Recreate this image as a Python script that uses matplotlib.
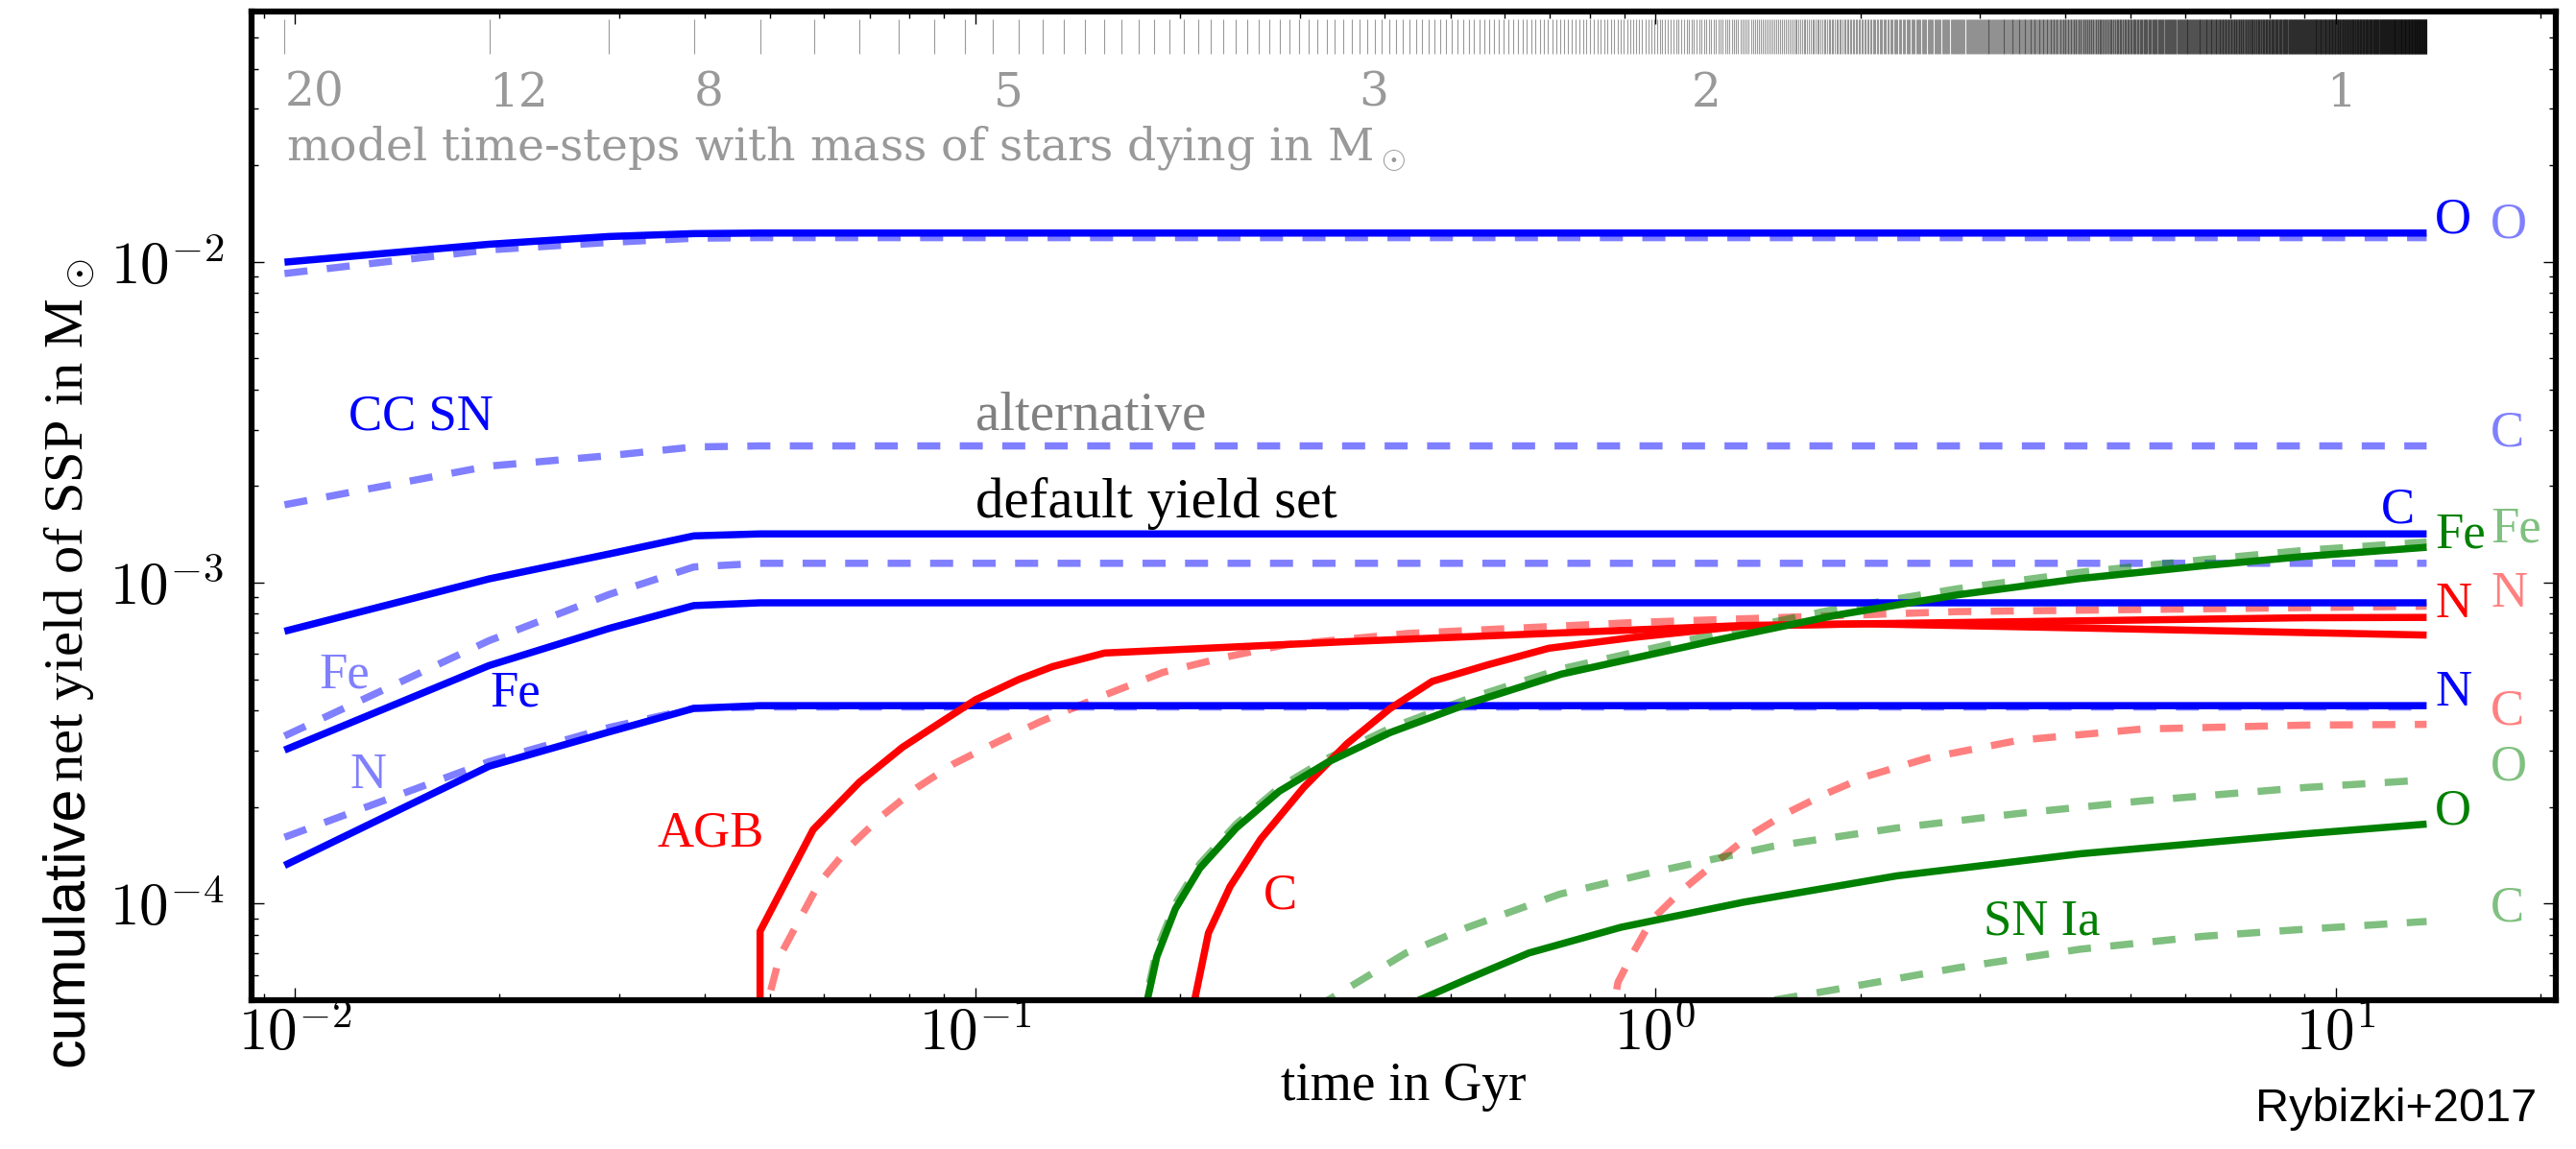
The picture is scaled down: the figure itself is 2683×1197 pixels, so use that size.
import numpy as np
import matplotlib
matplotlib.use("Agg")
import matplotlib.pyplot as plt
from matplotlib.ticker import FuncFormatter, LogLocator

plt.rcParams['mathtext.fontset'] = 'cm'

# ---------------- data ----------------
# model time grid (Gyr)
model_dt = 0.00966
n_steps = 1408

# stellar masses dying at given model time-steps
mass_labels = ['20', '12', '8', '5', '3', '2', '1']
mass_label_times = [0.00966, 0.0193, 0.0386, 0.1063, 0.3667, 1.13, 9.68]

# CC SN
t_cc = [0.00966, 0.0193, 0.029, 0.0386, 0.0483, 13.6]
cc_O = [9.98e-3, 1.135e-2, 1.20e-2, 1.225e-2, 1.23e-2, 1.23e-2]
cc_C = [7.06e-4, 1.028e-3, 1.23e-3, 1.40e-3, 1.42e-3, 1.42e-3]
cc_Fe = [3.01e-4, 5.52e-4, 7.21e-4, 8.49e-4, 8.66e-4, 8.66e-4]
cc_N = [1.315e-4, 2.68e-4, 3.43e-4, 4.06e-4, 4.14e-4, 4.14e-4]
cc_O_alt = [9.2e-3, 1.09e-2, 1.15e-2, 1.185e-2, 1.19e-2, 1.19e-2]
cc_C_alt = [1.75e-3, 2.31e-3, 2.49e-3, 2.65e-3, 2.67e-3, 2.67e-3]
cc_Fe_alt = [3.33e-4, 6.6e-4, 9.2e-4, 1.12e-3, 1.15e-3, 1.15e-3]
cc_N_alt = [1.61e-4, 2.77e-4, 3.54e-4, 4.06e-4, 4.1e-4, 4.1e-4]

# AGB
t_agb_N = [0.0483, 0.0483, 0.0578, 0.0676, 0.0782, 0.0893, 0.1002, 0.116, 0.130,
           0.155, 0.35, 0.93, 1.35, 9.0, 13.6]
agb_N = [1e-5, 8.2e-5, 1.70e-4, 2.39e-4, 3.07e-4, 3.69e-4, 4.32e-4, 5.0e-4, 5.48e-4,
         6.04e-4, 6.55e-4, 7.13e-4, 7.36e-4, 7.78e-4, 7.8e-4]
t_agb_N_alt = [0.0483, 0.0516, 0.059, 0.0655, 0.0726, 0.0822, 0.0931, 0.1078, 0.1247,
               0.1535, 0.189, 0.232, 0.286, 0.432, 0.93, 2.78, 13.6]
agb_N_alt = [4e-5, 6.84e-5, 1.16e-4, 1.51e-4, 1.86e-4, 2.30e-4, 2.73e-4, 3.19e-4, 3.69e-4,
             4.43e-4, 5.26e-4, 5.85e-4, 6.41e-4, 6.95e-4, 7.52e-4, 8.13e-4, 8.45e-4]
t_agb_C = [0.2, 0.2203, 0.237, 0.263, 0.304, 0.352, 0.407, 0.470, 0.567, 0.697, 0.93,
           1.346, 2.04, 4.21, 13.6]
agb_C = [3e-5, 8.1e-5, 1.13e-4, 1.59e-4, 2.30e-4, 3.15e-4, 4.05e-4, 4.93e-4, 5.55e-4,
         6.25e-4, 6.76e-4, 7.33e-4, 7.45e-4, 7.23e-4, 6.87e-4]
t_agb_C_alt = [0.855, 0.881, 0.927, 0.987, 1.094, 1.214, 1.375, 1.556, 1.763, 2.04, 2.51,
               3.42, 5.19, 9.0, 13.6]
agb_C_alt = [4e-5, 5.69e-5, 7.02e-5, 8.89e-5, 1.10e-4, 1.32e-4, 1.63e-4, 1.91e-4, 2.18e-4,
             2.49e-4, 2.84e-4, 3.23e-4, 3.50e-4, 3.60e-4, 3.62e-4]

# SN Ia
t_ia_Fe = [0.175, 0.185, 0.197, 0.214, 0.242, 0.280, 0.330, 0.407, 0.532, 0.727, 1.214,
           1.84, 2.78, 4.21, 6.39, 9.0, 13.6]
ia_Fe = [4e-5, 6.84e-5, 9.64e-5, 1.29e-4, 1.72e-4, 2.24e-4, 2.76e-4, 3.41e-4, 4.21e-4,
         5.19e-4, 6.59e-4, 7.92e-4, 9.17e-4, 1.031e-3, 1.13e-3, 1.208e-3, 1.29e-3]
ia_Fe_alt = [4.2e-5, 7.2e-5, 1.0e-4, 1.33e-4, 1.77e-4, 2.30e-4, 2.84e-4, 3.52e-4, 4.36e-4,
             5.39e-4, 6.89e-4, 8.28e-4, 9.58e-4, 1.078e-3, 1.18e-3, 1.262e-3, 1.34e-3]
t_ia_O = [0.43, 0.449, 0.530, 0.652, 0.890, 1.346, 2.26, 4.21, 9.0, 13.6]
ia_O = [4.6e-5, 5.0e-5, 5.83e-5, 7.02e-5, 8.44e-5, 1.01e-4, 1.22e-4, 1.43e-4, 1.65e-4, 1.77e-4]
t_ia_O_alt = [0.32, 0.33, 0.430, 0.530, 0.723, 0.987, 1.49, 2.26, 3.42, 5.19, 9.0, 13.6]
ia_O_alt = [4.6e-5, 5.0e-5, 7.02e-5, 8.44e-5, 1.07e-4, 1.25e-4, 1.51e-4, 1.72e-4, 1.91e-4,
            2.09e-4, 2.30e-4, 2.43e-4]
t_ia_C_alt = [1.3, 1.49, 1.84, 2.78, 4.21, 6.39, 9.0, 13.6]
ia_C_alt = [4.75e-5, 5.0e-5, 5.4e-5, 6.31e-5, 7.21e-5, 7.91e-5, 8.32e-5, 8.8e-5]

# ---------------- figure ----------------
W, H = 2683, 1197
fig = plt.figure(figsize=(W / 100, H / 100), dpi=100)
ax = fig.add_axes([262 / W, 155 / H, 2400 / W, 1030 / H])
ax.set_xscale('log')
ax.set_yscale('log')
ax.set_xlim(0.00864, 21.06)
ax.set_ylim(5e-5, 0.0603)

LW = 5.4
DASH = (3.2, 2.7)
BLUE, RED, GREEN = '#0000ff', '#ff0000', '#008000'

def dashed(t, v, c):
    ax.plot(t, v, color=c, lw=LW, alpha=0.5, dashes=DASH, solid_capstyle='butt')

def solid(t, v, c):
    ax.plot(t, v, color=c, lw=LW, solid_capstyle='butt')

# alternative (dashed) first
for v in (cc_O_alt, cc_C_alt, cc_Fe_alt, cc_N_alt):
    dashed(t_cc, v, BLUE)
dashed(t_agb_N_alt, agb_N_alt, RED)
dashed(t_agb_C_alt, agb_C_alt, RED)
dashed(t_ia_Fe, ia_Fe_alt, GREEN)
dashed(t_ia_O_alt, ia_O_alt, GREEN)
dashed(t_ia_C_alt, ia_C_alt, GREEN)

# default (solid)
for v in (cc_O, cc_C, cc_Fe, cc_N):
    solid(t_cc, v, BLUE)
solid(t_agb_N, agb_N, RED)
solid(t_agb_C, agb_C, RED)
solid(t_ia_Fe, ia_Fe, GREEN)
solid(t_ia_O, ia_O, GREEN)

# model time-steps bar
times = model_dt * np.arange(1, n_steps + 1)
ax.vlines(times, 0.0446, 0.057, colors='k', alpha=0.4, lw=0.8)

SERIF = 'Liberation Serif'
FS = 38
for lab, tt in zip(mass_labels, mass_label_times):
    ax.text(tt, 0.0305, lab, color='0.6', fontsize=35, family='DejaVu Serif',
            ha='left', va='baseline')
ax.text(0.0097, 0.0207, r'model time-steps with mass of stars dying in M$_\odot$',
        color='0.6', fontsize=34, family='DejaVu Serif', ha='left', va='baseline')

# right-hand labels
LIGHT = {BLUE: '#8080ff', RED: '#ff8080', GREEN: '#80c080'}
col1, col2 = 14.0, 16.9
right_default = [('O', cc_O[-1], BLUE), ('Fe', ia_Fe[-1], GREEN), ('N', agb_N[-1], RED),
                 ('N', cc_N[-1], BLUE), ('O', ia_O[-1], GREEN)]
right_alt = [('O', cc_O_alt[-1], BLUE), ('C', cc_C_alt[-1], BLUE), ('Fe', ia_Fe_alt[-1], GREEN),
             ('N', agb_N_alt[-1], RED), ('C', agb_C_alt[-1], RED), ('O', ia_O_alt[-1], GREEN),
             ('C', ia_C_alt[-1], GREEN)]
for lab, y, c in right_default:
    ax.text(col1, y, lab, color=c, fontsize=FS, family=SERIF, ha='left', va='baseline')
for lab, y, c in right_alt:
    ax.text(col2, y, lab, color=LIGHT[c], fontsize=FS, family=SERIF, ha='left', va='baseline')
ax.text(11.65, 1.54e-3, 'C', color=BLUE, fontsize=FS, family=SERIF, ha='left', va='baseline')

# in-plot labels
ax.text(0.0120, 3.0e-3, 'CC SN', color=BLUE, fontsize=FS, family=SERIF, va='baseline')
ax.text(0.100, 3.0e-3, 'alternative', color='0.5', fontsize=41, family=SERIF, va='baseline')
ax.text(0.100, 1.60e-3, 'default yield set', color='k', fontsize=42.5, family=SERIF, va='baseline')
ax.text(0.01087, 4.71e-4, 'Fe', color=LIGHT[BLUE], fontsize=FS, family=SERIF, va='baseline')
ax.text(0.01935, 4.12e-4, 'Fe', color=BLUE, fontsize=FS, family=SERIF, va='baseline')
ax.text(0.01207, 2.29e-4, 'N', color=LIGHT[BLUE], fontsize=FS, family=SERIF, va='baseline')
ax.text(0.0341, 1.51e-4, 'AGB', color=RED, fontsize=FS, family=SERIF, va='baseline')
ax.text(0.2656, 9.64e-5, 'C', color=RED, fontsize=FS, family=SERIF, va='baseline')
ax.text(3.04, 8.0e-5, 'SN Ia', color=GREEN, fontsize=FS, family=SERIF, va='baseline')

# axes styling
for s in ax.spines.values():
    s.set_linewidth(4.5)
ax.xaxis.set_major_locator(LogLocator(base=10, numticks=10))
ax.yaxis.set_major_locator(LogLocator(base=10, numticks=10))
fmt = FuncFormatter(lambda v, p: r'$10^{%d}$' % int(round(np.log10(v))))
ax.xaxis.set_major_formatter(fmt)
ax.yaxis.set_major_formatter(fmt)
ax.tick_params(which='both', direction='in', top=True, right=True, width=1.0)
ax.tick_params(which='major', length=9.5, labelsize=44)
ax.tick_params(which='minor', length=5)
ax.tick_params(axis='y', which='major', pad=21)
ax.tick_params(axis='x', which='major', pad=4)

# axis labels
fig.text(1462 / W, (H - 1146) / H, 'time in Gyr', fontsize=40, family=SERIF,
         ha='center', va='baseline')
fig.text(86 / W, (H - 1111) / H, 'cumulative', fontsize=44, family='Liberation Sans',
         rotation=90, rotation_mode='anchor', ha='left', va='baseline')
fig.text(86 / W, (H - 815) / H, r'net yield of SSP in M$_\odot$', fontsize=42, family=SERIF,
         rotation=90, rotation_mode='anchor', ha='left', va='baseline')
fig.text(2642 / W, (H - 1168) / H, 'Rybizki+2017', fontsize=35, family='Liberation Sans',
         ha='right', va='baseline')

fig.savefig('out.png', dpi=100)
